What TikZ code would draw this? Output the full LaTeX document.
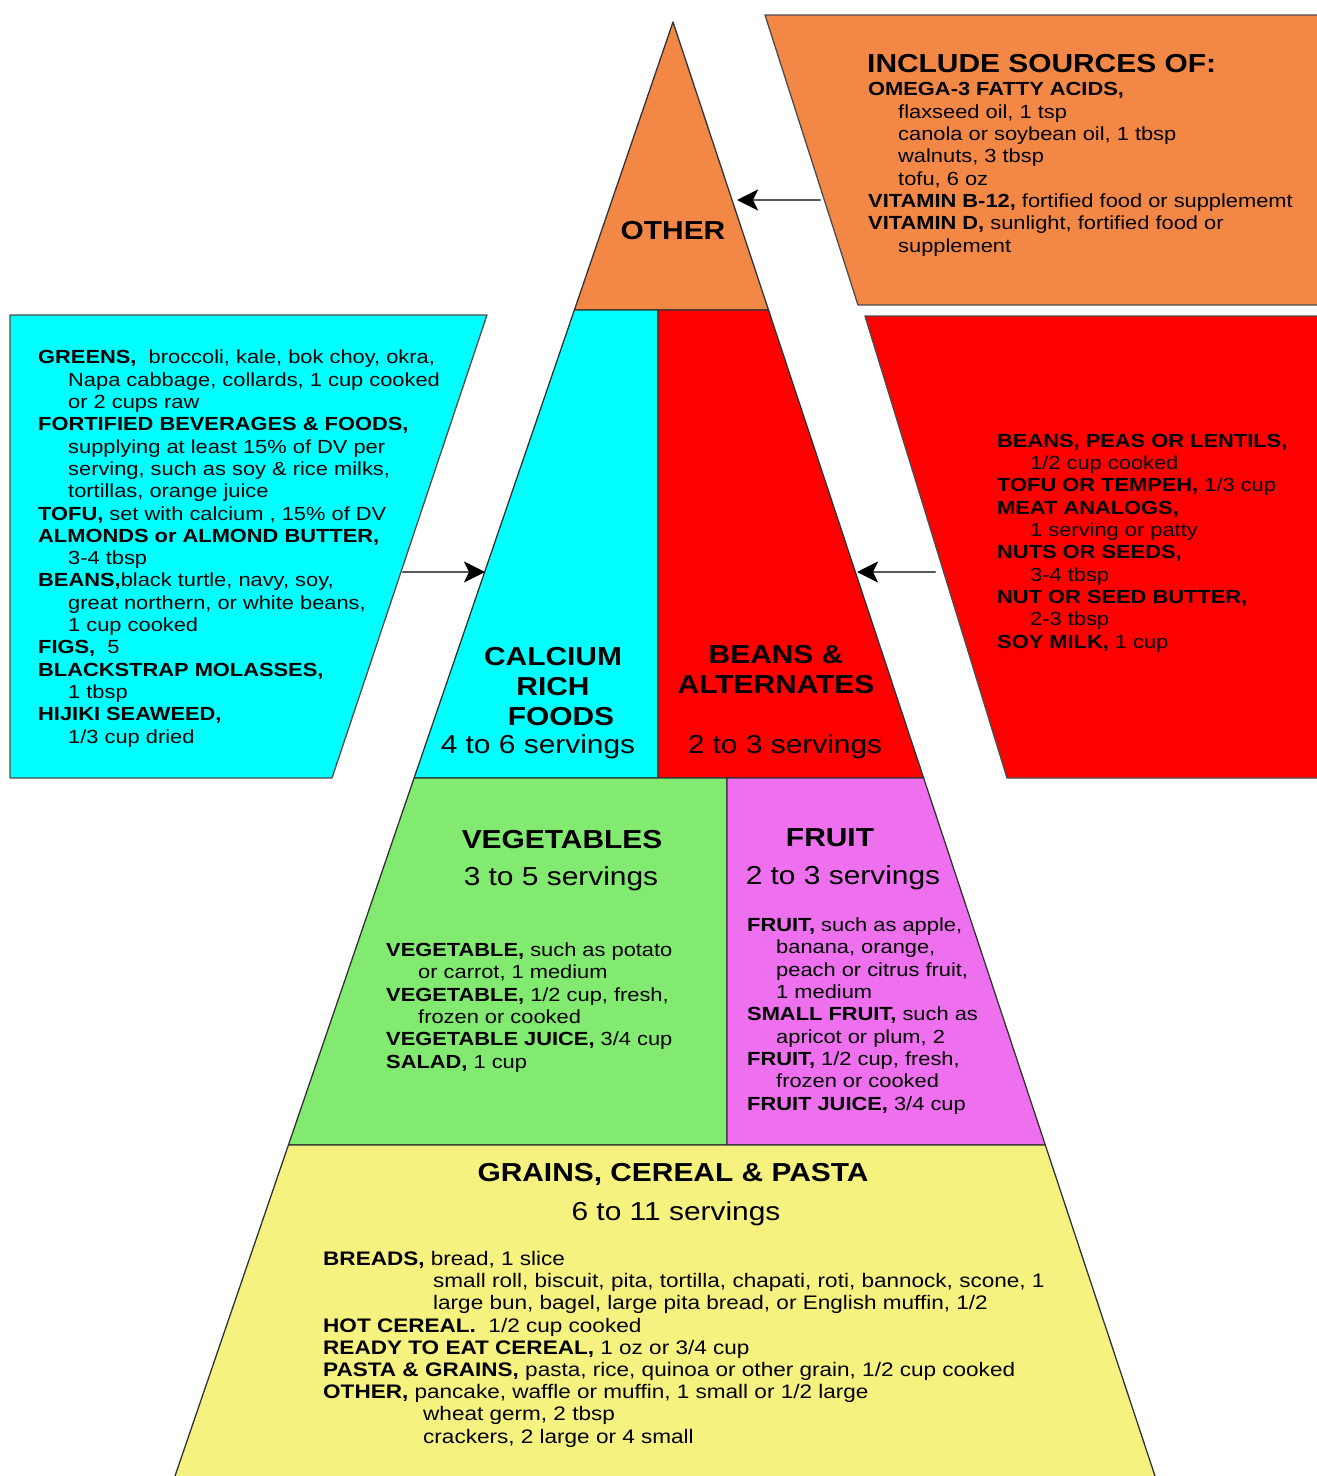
\documentclass[tikz,border=0pt]{standalone}
\usepackage{fontspec}
\setmainfont{Liberation Sans}
\newfontfamily\pyrfont[FakeStretch=1.15]{Liberation Sans}
\usetikzlibrary{arrows.meta}
\definecolor{otherorange}{RGB}{243,136,70}
\definecolor{calcyan}{RGB}{0,255,255}
\definecolor{beanred}{RGB}{255,0,0}
\definecolor{veggreen}{RGB}{130,234,112}
\definecolor{fruitpink}{RGB}{238,112,238}
\definecolor{grainyellow}{RGB}{246,242,128}
\begin{document}
\begin{tikzpicture}[x=1pt,y=-1pt, line join=round, line cap=round,
	layer/.style={draw=black!80, line width=1.3pt},
	sidebox/.style={draw=black!70, line width=1.3pt},
	txt/.style={anchor=base west, align=left, inner sep=0pt, font=\pyrfont\fontsize{19}{22.3}\selectfont},
	head/.style={align=center, inner sep=0pt, font=\pyrfont\bfseries\fontsize{26}{30}\selectfont},
	serv/.style={anchor=base, inner sep=0pt, font=\pyrfont\fontsize{26}{30}\selectfont},
	link/.style={draw=black!65, line width=2.5pt, -{Stealth[length=21pt,width=21pt,inset=5pt,black]}}]
	\useasboundingbox (0,0) rectangle (1317,1476);
	\path%pyramid points
	(673,22) coordinate (T) (175,1476) coordinate (BL) (1155,1476) coordinate (BR)
	(0,310) coordinate (y1) (1317,310) coordinate (y1r)
	(0,778) coordinate (y2) (1317,778) coordinate (y2r)
	(0,1145) coordinate (y3) (1317,1145) coordinate (y3r)
	(intersection of T--BL and y1--y1r) coordinate (L1)
	(intersection of T--BR and y1--y1r) coordinate (R1)
	(intersection of T--BL and y2--y2r) coordinate (L2)
	(intersection of T--BR and y2--y2r) coordinate (R2)
	(intersection of T--BL and y3--y3r) coordinate (L3)
	(intersection of T--BR and y3--y3r) coordinate (R3)
	(658,310) coordinate (M1) (658,778) coordinate (M2)
	(727,778) coordinate (N1) (727,1145) coordinate (N2)
	;
	\filldraw[layer, fill=otherorange] (T)--(L1)--(R1)--cycle;
	\filldraw[layer, fill=calcyan] (L1)--(M1)--(M2)--(L2)--cycle;
	\filldraw[layer, fill=beanred] (M1)--(R1)--(R2)--(M2)--cycle;
	\filldraw[layer, fill=veggreen] (L2)--(N1)--(N2)--(L3)--cycle;
	\filldraw[layer, fill=fruitpink] (N1)--(R2)--(R3)--(N2)--cycle;
	\fill[grainyellow] (BL)--(L3)--(R3)--(BR)--cycle;
	\draw[layer] (BL)--(L3)--(R3)--(BR);
	%side boxes
	\fill[otherorange] (765,15)--(1317,15)--(1317,305)--(858,305)--cycle;
	\draw[sidebox] (1317,15)--(765,15)--(858,305)--(1317,305);
	\fill[calcyan] (10,315)--(487,315)--(332,778)--(10,778)--cycle;
	\draw[sidebox] (10,315)--(487,315)--(332,778)--(10,778)--cycle;
	\fill[beanred] (865,316)--(1317,316)--(1317,778)--(1007,778)--cycle;
	\draw[sidebox] (1317,316)--(865,316)--(1007,778)--(1317,778);
	%arrows
	\path (820,200) coordinate (otherfrom) (737,200) coordinate (otherto)
	(403,572) coordinate (calfrom) (485,572) coordinate (calto)
	(935,572) coordinate (beanfrom) (857,572) coordinate (beanto);
	\draw[link] (otherfrom)--(otherto);
	\draw[link] (calfrom)--(calto);
	\draw[link] (beanfrom)--(beanto);
	%pyramid labels
	\node[head] (other) at (673,231) {OTHER};
	\node[head] (calcium) at (553,687) {CALCIUM\\RICH\\\hspace*{16pt}FOODS};
	\node[serv] (calserv) at (538,753) {4 to 6 servings};
	\node[head] (beans) at (776,670) {BEANS \&\\ALTERNATES};
	\node[serv] (beanserv) at (785,753) {2 to 3 servings};
	\node[head] (veg) at (562,840) {VEGETABLES};
	\node[serv] (vegserv) at (561,885) {3 to 5 servings};
	\node[head] (fruit) at (830,838) {FRUIT};
	\node[serv] (fruitserv) at (843,884) {2 to 3 servings};
	\node[head] (grains) at (673,1174) {GRAINS, CEREAL \& PASTA};
	\node[serv] (grainserv) at (676,1220) {6 to 11 servings};
	%lists, placed at the baseline of their last line
	\node[head, anchor=base west] (incl) at (867,72) {INCLUDE SOURCES OF:};
	\node[txt] (otherlist) at (868,252) {\textbf{OMEGA-3 FATTY ACIDS,}\\
		\hspace*{30pt}flaxseed oil, 1 tsp\\
		\hspace*{30pt}canola or soybean oil, 1 tbsp\\
		\hspace*{30pt}walnuts, 3 tbsp\\
		\hspace*{30pt}tofu, 6 oz\\
		\textbf{VITAMIN B-12,} fortified food or supplememt\\
		\textbf{VITAMIN D,} sunlight, fortified food or\\
		\hspace*{30pt}supplement};
	\node[txt] (callist) at (38,743) {\textbf{GREENS,}\ \ broccoli, kale, bok choy, okra,\\
		\hspace*{30pt}Napa cabbage, collards, 1 cup cooked\\
		\hspace*{30pt}or 2 cups raw\\
		\textbf{FORTIFIED BEVERAGES \& FOODS,}\\
		\hspace*{30pt}supplying at least 15\% of DV per\\
		\hspace*{30pt}serving, such as soy \& rice milks,\\
		\hspace*{30pt}tortillas, orange juice\\
		\textbf{TOFU,} set with calcium , 15\% of DV\\
		\textbf{ALMONDS or ALMOND BUTTER,}\\
		\hspace*{30pt}3-4 tbsp\\
		\textbf{BEANS,}black turtle, navy, soy,\\
		\hspace*{30pt}great northern, or white beans,\\
		\hspace*{30pt}1 cup cooked\\
		\textbf{FIGS,}\ \ 5\\
		\textbf{BLACKSTRAP MOLASSES,}\\
		\hspace*{30pt}1 tbsp\\
		\textbf{HIJIKI SEAWEED,}\\
		\hspace*{30pt}1/3 cup dried};
	\node[txt] (beanlist) at (997,648) {\textbf{BEANS, PEAS OR LENTILS,}\\
		\hspace*{33pt}1/2 cup cooked\\
		\textbf{TOFU OR TEMPEH,} 1/3 cup\\
		\textbf{MEAT ANALOGS,}\\
		\hspace*{33pt}1 serving or patty\\
		\textbf{NUTS OR SEEDS,}\\
		\hspace*{33pt}3-4 tbsp\\
		\textbf{NUT OR SEED BUTTER,}\\
		\hspace*{33pt}2-3 tbsp\\
		\textbf{SOY MILK,} 1 cup};
	\node[txt] (veglist) at (386,1068) {\textbf{VEGETABLE,} such as potato\\
		\hspace*{32pt}or carrot, 1 medium\\
		\textbf{VEGETABLE,} 1/2 cup, fresh,\\
		\hspace*{32pt}frozen or cooked\\
		\textbf{VEGETABLE JUICE,} 3/4 cup\\
		\textbf{SALAD,} 1 cup};
	\node[txt] (fruitlist) at (747,1110) {\textbf{FRUIT,} such as apple,\\
		\hspace*{29pt}banana, orange,\\
		\hspace*{29pt}peach or citrus fruit,\\
		\hspace*{29pt}1 medium\\
		\textbf{SMALL FRUIT,} such as\\
		\hspace*{29pt}apricot or plum, 2\\
		\textbf{FRUIT,} 1/2 cup, fresh,\\
		\hspace*{29pt}frozen or cooked\\
		\textbf{FRUIT JUICE,} 3/4 cup};
	\node[txt, font=\pyrfont\fontsize{19.6}{22.2}\selectfont] (grainlist) at (323,1443) {\textbf{BREADS,} bread, 1 slice\\
		\hspace*{110pt}small roll, biscuit, pita, tortilla, chapati, roti, bannock, scone, 1\\
		\hspace*{110pt}large bun, bagel, large pita bread, or English muffin, 1/2\\
		\textbf{HOT CEREAL.}\ \ 1/2 cup cooked\\
		\textbf{READY TO EAT CEREAL,} 1 oz or 3/4 cup\\
		\textbf{PASTA \& GRAINS,} pasta, rice, quinoa or other grain, 1/2 cup cooked\\
		\textbf{OTHER,} pancake, waffle or muffin, 1 small or 1/2 large\\
		\hspace*{100pt}wheat germ, 2 tbsp\\
		\hspace*{100pt}crackers, 2 large or 4 small};
\end{tikzpicture}
\end{document}
